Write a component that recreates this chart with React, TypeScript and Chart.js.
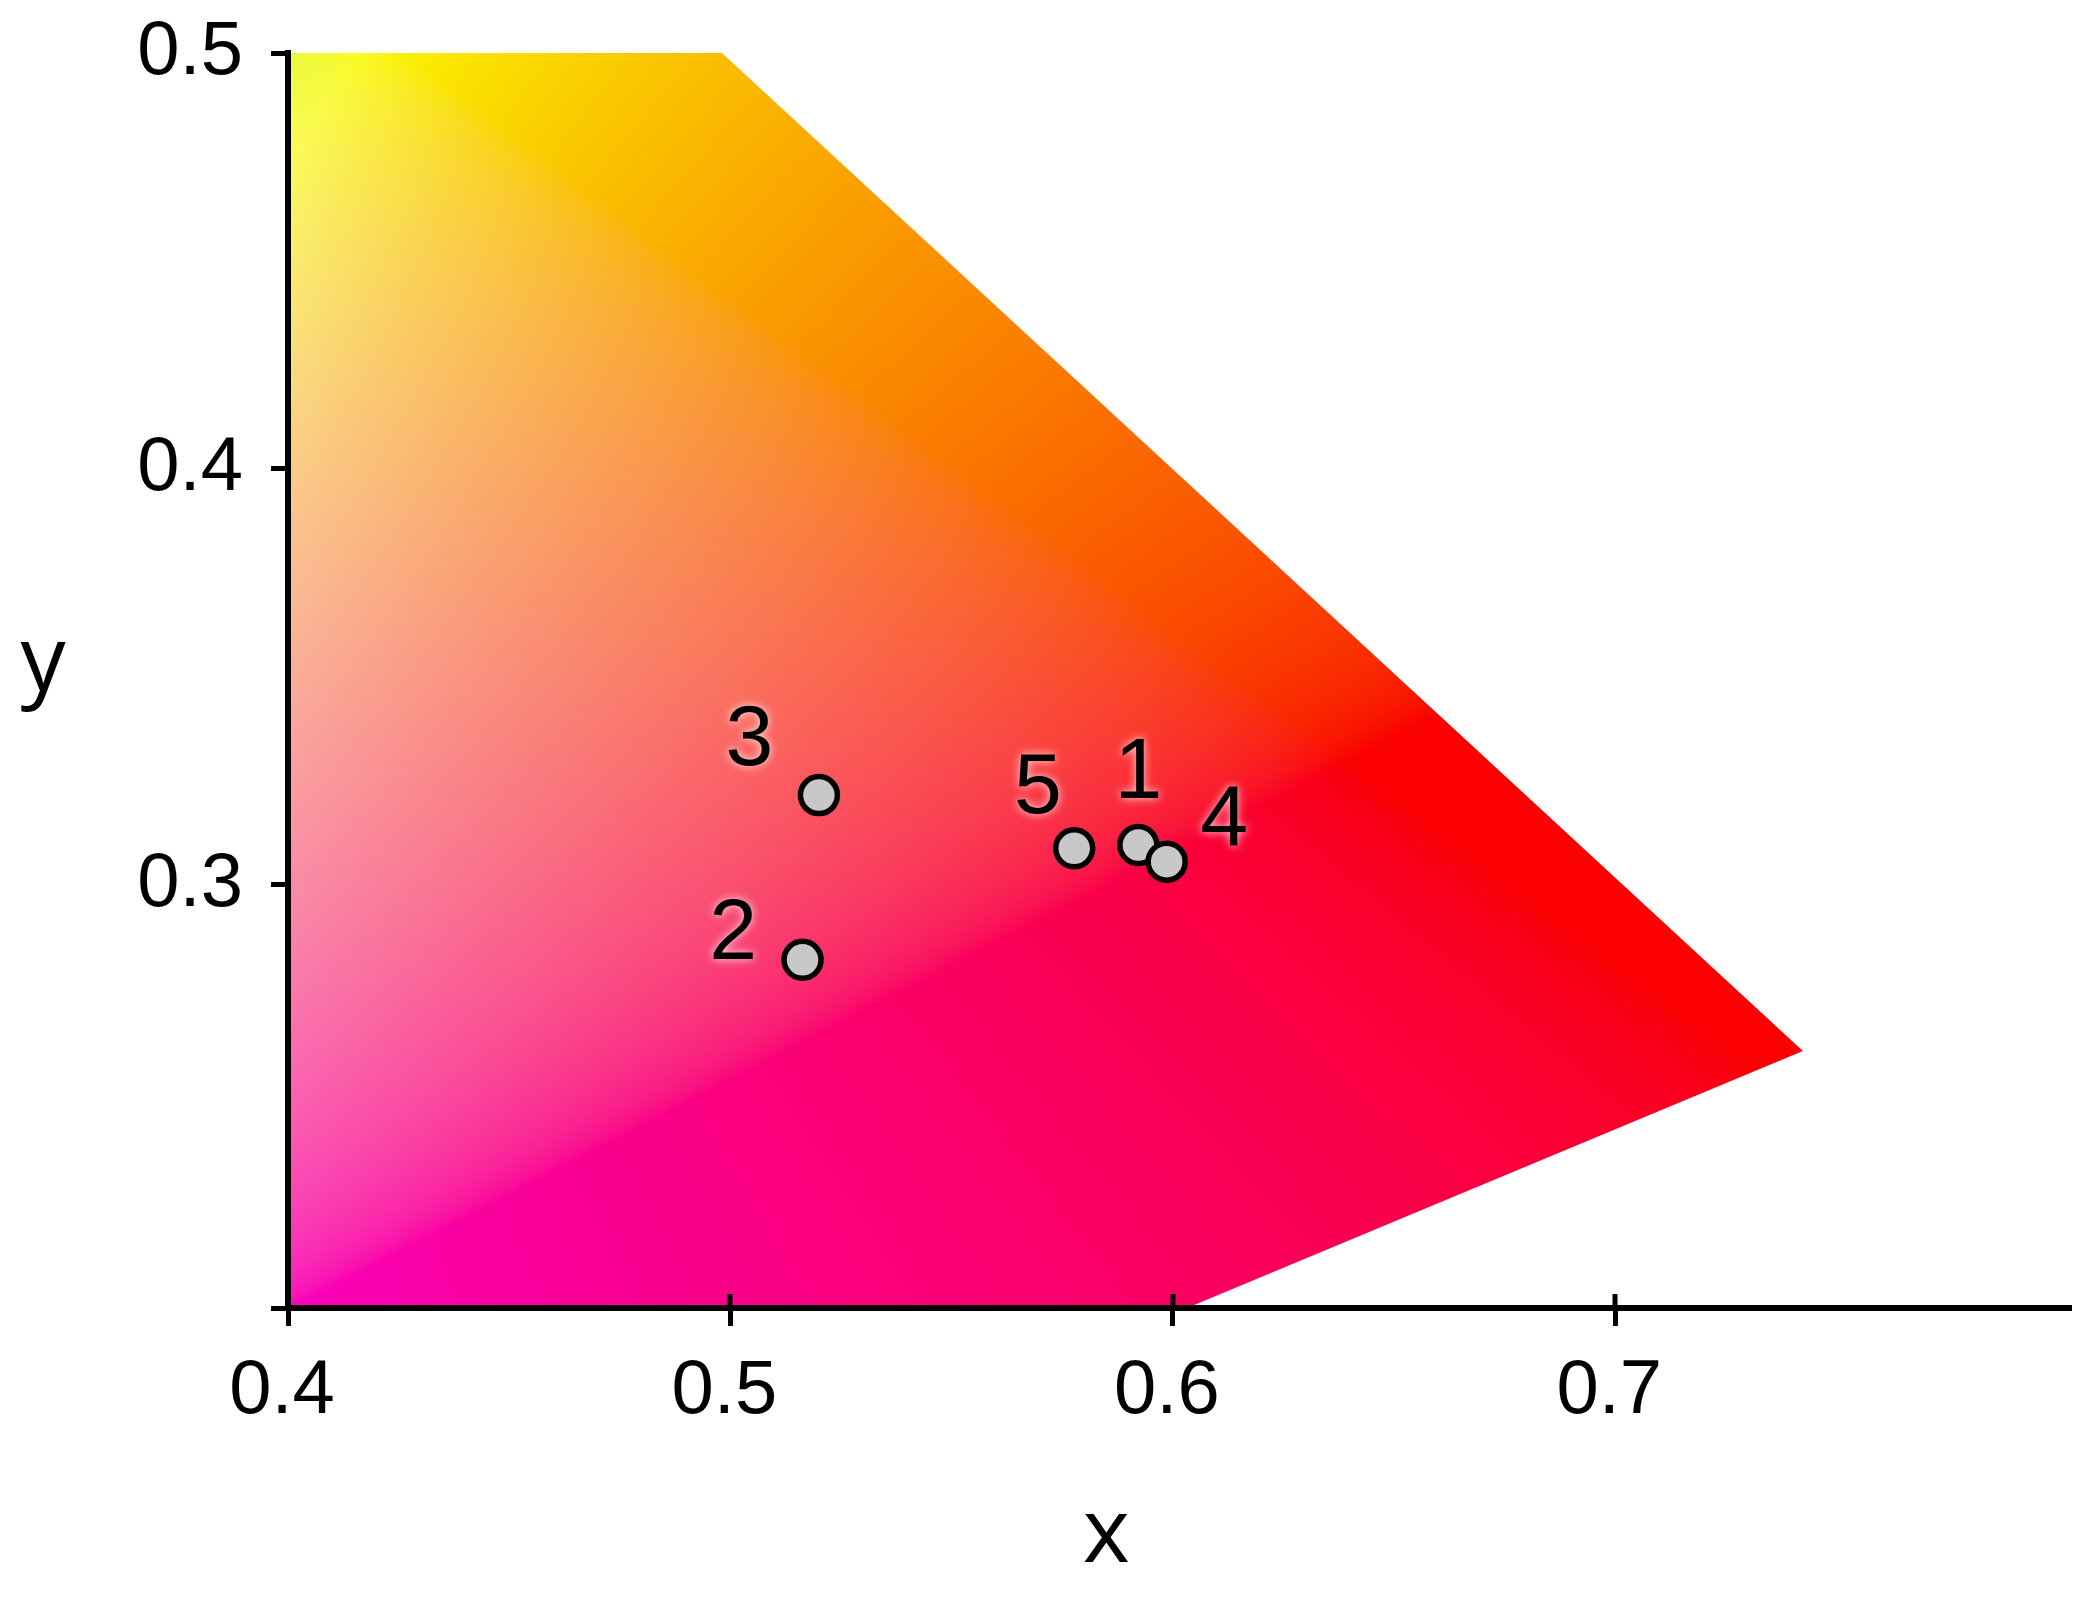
import React, { useEffect, useRef } from 'react';
import { Chart, registerables } from 'chart.js';

Chart.register(...registerables);

// ---- data ----
const pointLabels = ['1', '2', '3', '4', '5'];
const pointX = [0.5922, 0.5163, 0.52, 0.5986, 0.5777];
const pointY = [0.3096, 0.282, 0.3216, 0.3056, 0.3088];

const xTickValues = [0.4, 0.5, 0.6, 0.7];
const yTickValues = [0.3, 0.4, 0.5];
const xMin = 0.4;
const xMax = 0.803;
const yMin = 0.1983;
const yMax = 0.5;

// gamut boundary (spectral locus edge + purple line), extended beyond the plot
const gamutX = [0.3, 0.7424, 0.3];
const gamutY = [0.6945, 0.2601, 0.0637];

// ---- styling ----
const labelOffsets = [
  [0, -77.5],
  [-69.5, -32],
  [-69.6, -61],
  [57.6, -47.7],
  [-36.4, -65.8],
];
const TICK_FONT = "'Liberation Sans', Arial, sans-serif";
const TITLE_FONT = "'Open Sans', 'Noto Sans', sans-serif";

function xyToRgb(x: number, y: number): [number, number, number] {
  const yy = Math.max(y, 1e-4);
  const X = x / yy;
  const Y = 1;
  const Z = (1 - x - y) / yy;
  let r = 3.2406 * X - 1.5372 * Y - 0.4986 * Z;
  let g = -0.9689 * X + 1.8758 * Y + 0.0415 * Z;
  let b = 0.0557 * X - 0.204 * Y + 1.057 * Z;
  r = Math.max(r, 0);
  g = Math.max(g, 0);
  b = Math.max(b, 0);
  const m = Math.max(r, g, b, 1e-9);
  const gam = (c: number) => {
    c = c / m;
    return c <= 0.0031308 ? 12.92 * c : 1.055 * Math.pow(c, 1 / 2.4) - 0.055;
  };
  const k = 0.98 * 255;
  return [gam(r) * k, gam(g) * k, gam(b) * k];
}

const gamutPlugin = {
  id: 'gamutFill',
  beforeDatasetsDraw(chart: any) {
    const { ctx, chartArea: a, scales } = chart;
    const xs = scales.x;
    const ys = scales.y;
    const w = Math.ceil(a.right - a.left);
    const h = Math.ceil(a.bottom - a.top);
    const off = document.createElement('canvas');
    off.width = w;
    off.height = h;
    const octx = off.getContext('2d')!;
    const img = octx.createImageData(w, h);
    const colX = new Float64Array(w);
    for (let px = 0; px < w; px++) colX[px] = xs.getValueForPixel(a.left + px + 0.5);
    const d = img.data;
    for (let py = 0; py < h; py++) {
      const yv = ys.getValueForPixel(a.top + py + 0.5);
      for (let px = 0; px < w; px++) {
        const [r, g, b] = xyToRgb(colX[px], yv);
        const k = (py * w + px) * 4;
        d[k] = r;
        d[k + 1] = g;
        d[k + 2] = b;
        d[k + 3] = 255;
      }
    }
    octx.putImageData(img, 0, 0);
    ctx.save();
    ctx.beginPath();
    ctx.rect(a.left, a.top, a.right - a.left, a.bottom - a.top);
    ctx.clip();
    ctx.beginPath();
    gamutX.forEach((gx, i) => {
      const px = xs.getPixelForValue(gx);
      const py = ys.getPixelForValue(gamutY[i]);
      if (i === 0) ctx.moveTo(px, py);
      else ctx.lineTo(px, py);
    });
    ctx.closePath();
    ctx.clip();
    ctx.drawImage(off, a.left, a.top);
    ctx.restore();
  },
};

const LABEL_SIZE = 86;
const labelPlugin = {
  id: 'pointLabels',
  afterDatasetsDraw(chart: any) {
    const { ctx, scales } = chart;
    ctx.save();
    ctx.font = `${LABEL_SIZE}px ${TICK_FONT}`;
    ctx.textAlign = 'center';
    ctx.textBaseline = 'alphabetic';
    ctx.fillStyle = '#000';
    ctx.shadowColor = 'rgba(255,255,255,0.85)';
    ctx.shadowBlur = 10;
    pointLabels.forEach((lab, i) => {
      const px = scales.x.getPixelForValue(pointX[i]) + labelOffsets[i][0];
      const py = scales.y.getPixelForValue(pointY[i]) + labelOffsets[i][1] + 0.358 * LABEL_SIZE;
      ctx.fillText(lab, px, py);
    });
    ctx.restore();
  },
};

const axisExtrasPlugin = {
  id: 'axisExtras',
  afterDraw(chart: any) {
    const { ctx, chartArea: a, scales } = chart;
    ctx.save();
    ctx.strokeStyle = '#000';
    ctx.lineWidth = 5;
    // inward part of x ticks
    xTickValues.forEach((v) => {
      const px = Math.round(scales.x.getPixelForValue(v));
      ctx.beginPath();
      ctx.moveTo(px, a.bottom);
      ctx.lineTo(px, a.bottom - 14);
      ctx.stroke();
    });
    // axis titles
    ctx.fillStyle = '#000';
    ctx.font = `90px ${TITLE_FONT}`;
    ctx.textAlign = 'center';
    ctx.textBaseline = 'alphabetic';
    ctx.fillText('x', a.left + 0.459 * (a.right - a.left), a.bottom + 254);
    ctx.fillText('y', 43, a.top + 637);
    ctx.restore();
  },
};

export default function App() {
  const ref = useRef<HTMLCanvasElement | null>(null);

  useEffect(() => {
    if (!ref.current) return;
    document.body.style.margin = '0';
    const chart = new Chart(ref.current, {
      type: 'scatter',
      data: {
        datasets: [
          {
            label: 'samples',
            data: pointX.map((x, i) => ({ x, y: pointY[i] })),
            backgroundColor: '#c8c8c8',
            borderColor: '#000000',
            borderWidth: 5.5,
            pointRadius: 18.5,
            pointHoverRadius: 18.5,
          },
        ],
      },
      options: {
        animation: false,
        responsive: false,
        devicePixelRatio: 1,
        layout: { padding: { top: 53, right: 22, bottom: 0, left: 0 } },
        plugins: {
          legend: { display: false },
          tooltip: { enabled: false },
          title: { display: false },
        },
        scales: {
          x: {
            type: 'linear',
            min: xMin,
            max: xMax,
            afterBuildTicks: (s: any) => {
              s.ticks = xTickValues.map((v) => ({ value: v }));
            },
            afterFit: (s: any) => {
              s.height = 290;
              s.paddingLeft = 0;
              s.paddingRight = 0;
            },
            ticks: {
              callback: (v: any) => Number(v).toFixed(1),
              color: '#000',
              font: { family: TICK_FONT, size: 76 },
              padding: 20,
              labelOffset: -6,
              maxRotation: 0,
              autoSkip: false,
              z: 1,
            },
            grid: {
              display: true,
              drawOnChartArea: false,
              drawTicks: true,
              tickLength: 18,
              tickWidth: 5,
              tickColor: '#000',
              color: '#000',
              z: 1,
            },
            border: { display: true, color: '#000', width: 6, z: 1 },
          },
          y: {
            type: 'linear',
            min: yMin,
            max: yMax,
            afterBuildTicks: (s: any) => {
              s.ticks = [yMin, ...yTickValues].map((v) => ({ value: v }));
            },
            afterFit: (s: any) => {
              s.width = 288;
              s.paddingTop = 0;
              s.paddingBottom = 0;
            },
            ticks: {
              callback: (v: any) => (Math.abs(Number(v) - yMin) < 1e-6 ? '' : Number(v).toFixed(1)),
              color: '#000',
              font: { family: TICK_FONT, size: 76 },
              padding: 28,
              autoSkip: false,
              z: 1,
            },
            grid: {
              display: true,
              drawOnChartArea: false,
              drawTicks: true,
              tickLength: 17,
              tickWidth: 5,
              tickColor: '#000',
              color: '#000',
              z: 1,
            },
            border: { display: true, color: '#000', width: 6, z: 1 },
          },
        },
      },
      plugins: [gamutPlugin, labelPlugin, axisExtrasPlugin],
    } as any);
    return () => chart.destroy();
  }, []);

  return (
    <div style={{ position: 'fixed', left: 0, top: 0, width: 2095, height: 1598, background: '#fff' }}>
      <canvas ref={ref} width={2095} height={1598} style={{ width: 2095, height: 1598, display: 'block' }} />
    </div>
  );
}
